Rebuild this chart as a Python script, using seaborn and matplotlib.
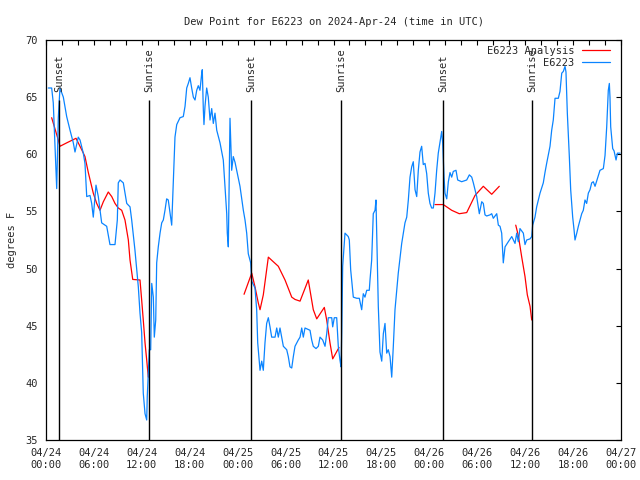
#!/usr/bin/env python3
"""Dew point at E6223 with analysis overlay, gnuplot-like look."""

import pandas as pd
import matplotlib
matplotlib.use("Agg")
import matplotlib.pyplot as plt
import matplotlib.dates as mdates
import seaborn as sns

# ── Data (hours after 2024-04-24 00:00 UTC, degrees F) ───────────────

obs_hours = [
    0.29, 0.71, 0.91, 1.25, 1.34, 1.54, 1.75, 2.17, 2.59, 3.01, 3.42, 3.63,
    4.04, 4.26, 4.67, 4.88, 5.10, 5.51, 5.72, 5.92, 6.26, 6.55, 6.97, 7.60,
    8.01, 8.64, 8.93, 9.05, 9.27, 9.68, 10.11, 10.52, 10.73, 11.14, 11.36,
    11.56, 11.77, 11.98, 12.18, 12.40, 12.61, 12.68, 12.94, 13.11, 13.24,
    13.44, 13.56, 13.74, 13.86, 14.06, 14.28, 14.49, 14.69, 14.90, 15.11,
    15.31, 15.74, 15.94, 16.15, 16.37, 16.78, 17.19, 17.41, 17.62, 17.82,
    18.03, 18.24, 18.45, 18.66, 18.87, 19.07, 19.28, 19.50, 19.57, 19.70,
    19.78, 19.91, 20.12, 20.32, 20.54, 20.75, 20.95, 21.16, 21.38, 21.79,
    22.20, 22.41, 22.63, 22.70, 22.83, 23.04, 23.25, 23.45, 23.67, 23.88,
    24.29, 24.71, 24.92, 25.13, 25.33, 25.63, 25.76, 26.17, 26.38, 26.51,
    26.80, 27.01, 27.21, 27.42, 27.63, 27.84, 28.05, 28.26, 28.68, 28.89,
    29.09, 29.30, 29.51, 29.72, 30.14, 30.34, 30.55, 30.77, 30.97, 31.18,
    31.59, 31.81, 32.02, 32.22, 32.43, 33.06, 33.27, 33.47, 33.81, 34.10,
    34.31, 34.65, 34.94, 35.15, 35.35, 35.78, 35.90, 36.10, 36.40, 36.60,
    36.81, 36.94, 37.03, 37.15, 37.44, 37.85, 37.98, 38.15, 38.48, 38.91,
    39.23, 39.53, 39.73, 39.94, 40.16, 40.48, 40.57, 40.78, 40.98, 41.20,
    41.32, 41.61, 41.82, 42.04, 42.24, 42.45, 42.66, 42.86, 43.08, 43.29,
    43.49, 43.70, 44.11, 44.54, 44.95, 45.17, 45.37, 45.58, 45.79, 45.99,
    46.21, 46.42, 46.62, 46.83, 47.04, 47.24, 47.46, 47.67, 47.87, 48.08,
    48.29, 48.50, 48.71, 48.92, 49.12, 49.34, 49.55, 49.67, 49.84, 49.96,
    50.18, 50.38, 50.59, 50.80, 51.00, 51.34, 51.55, 52.05, 52.68, 53.01,
    53.31, 53.51, 53.72, 53.93, 54.26, 54.56, 54.76, 54.97, 55.18, 55.60,
    55.81, 56.01, 56.44, 56.64, 56.85, 57.06, 57.19, 57.26, 57.48, 57.89,
    58.32, 58.73, 58.94, 59.14, 59.35, 59.77, 59.98, 60.19, 60.61, 60.82,
    60.94, 61.23, 61.44, 61.86, 62.27, 62.48, 62.69, 63.11, 63.32, 63.52,
    63.74, 64.15, 64.36, 64.58, 64.78, 64.99, 65.11, 65.28, 65.53, 65.70,
    65.95, 66.12, 66.24, 66.46, 66.66, 66.87, 67.08, 67.28, 67.49, 67.70,
    67.91, 68.12, 68.33, 68.53, 68.75, 69.37, 69.79, 70.00, 70.21, 70.41,
    70.54, 70.62, 70.71, 70.96, 71.13, 71.38, 71.55, 71.88,
]
obs_dewpt = [
    65.8, 65.8, 64.5, 58.4, 57.0, 63.2, 65.8, 65.0, 63.3, 62.1, 61.0, 60.2,
    61.5, 61.25, 60.1, 59.2, 56.3, 56.4, 55.7, 54.5, 57.3, 56.3, 54.0, 53.7,
    52.1, 52.1, 54.25, 57.5, 57.75, 57.5, 55.7, 55.4, 54.25, 51.6, 49.9,
    48.4, 46.1, 44.4, 39.1, 37.3, 36.75, 38.8, 42.9, 42.9, 48.7,
    47.5, 44.0, 45.5, 50.5, 51.9, 53.1, 54.0, 54.25, 55.1, 56.1,
    56.0, 53.8, 57.5, 61.5, 62.6, 63.2, 63.3, 64.2, 65.8, 66.2,
    66.7, 65.8, 65.0, 64.75, 65.6, 66.0, 65.6, 67.1, 67.4, 63.9,
    62.6, 64.2, 65.8, 65.0, 63.0, 64.0, 62.7, 63.6, 62.1, 61.0,
    59.5, 57.2, 54.8, 53.1, 51.9, 63.15, 58.6, 59.8, 59.3, 58.6,
    57.2, 55.1, 54.25, 53.1, 51.3, 50.5, 48.9, 48.3, 46.4, 43.5,
    41.1, 41.9, 41.1, 43.5, 45.2, 45.7, 44.9, 44.0, 44.0, 44.8,
    44.0, 44.8, 44.0, 43.2, 42.9, 42.3, 41.4, 41.3, 42.3, 43.2,
    43.75, 44.0, 44.8, 44.0, 44.8, 44.6, 43.75, 43.2, 43.0, 43.2,
    44.0, 43.75, 43.2, 44.3, 45.7, 45.7, 44.9, 45.7, 45.7, 43.2,
    42.0, 41.4, 44.3, 50.2, 53.1, 52.8, 52.5, 49.9, 47.5, 47.4,
    47.4, 46.4, 47.8, 47.5, 48.1, 48.1, 49.0, 50.75, 54.8, 55.1,
    56.0, 46.7, 42.7, 41.9, 44.3, 45.2, 42.6, 42.9, 42.3, 40.5,
    43.2, 46.4, 49.6, 52.2, 54.0, 54.5, 56.0, 58.0, 58.9, 59.35,
    56.9, 56.3, 58.6, 60.2, 60.7, 59.1, 59.2, 58.3, 56.6, 55.7,
    55.3, 55.3, 56.6, 58.6, 60.1, 61.1, 62.0, 61.0, 58.0, 56.6,
    56.1, 57.6, 58.4, 58.0, 58.5, 58.6, 57.75, 57.6, 57.75, 58.2,
    58.0, 57.5, 56.9, 56.3, 54.8, 55.85, 55.7, 54.7, 54.6, 54.7,
    54.8, 54.4, 54.8, 53.8, 53.7, 53.1, 51.3, 50.5, 51.9, 52.35,
    52.8, 52.2, 53.1, 52.35, 53.5, 53.1, 52.1, 52.5, 52.6, 52.8,
    53.8, 54.5, 55.4, 56.6, 57.5, 58.4, 59.2, 60.7, 62.1, 63.0,
    64.9, 64.9, 65.5, 67.1, 67.25, 67.7, 67.2, 63.6, 59.8, 56.9,
    54.5, 53.4, 52.5, 53.1, 53.7, 54.25, 54.8, 55.1, 56.0, 55.7,
    56.6, 56.9, 57.5, 57.6, 57.2, 58.6, 58.75, 59.9, 62.4, 65.6,
    66.2, 65.0, 62.4, 60.5, 60.3, 59.5, 60.1, 60.1,
]

# analysis comes in four separate runs
ana_hours = [
    [0.71, 1.54, 1.75, 2.59, 3.76, 4.04, 4.47, 4.88, 5.30, 5.92, 6.35, 6.76,
     7.18, 7.80, 8.23, 8.64, 9.05, 9.48, 9.89, 10.31, 10.52, 10.86, 11.77,
     11.98, 12.18, 12.40, 12.61, 12.81],
    [24.80, 25.76, 26.17, 26.58, 26.80, 27.21, 27.84, 28.46, 29.09, 29.93,
     30.77, 31.18, 31.81, 32.84, 33.47, 33.90, 34.85, 35.15, 35.56, 35.90,
     36.69],
    [48.71, 49.75, 50.80, 51.75, 52.68, 53.72, 54.76, 55.81, 56.76],
    [58.82, 59.14, 59.57, 59.98, 60.27, 60.61, 60.82],
]
ana_dewpt = [
    [63.2, 61.25, 60.7, 61.0, 61.4, 61.0, 60.4, 59.8, 58.4, 56.6, 55.7, 55.1,
     55.85, 56.7, 56.3, 55.7, 55.3, 55.1, 54.25, 52.5, 50.75, 49.05, 49.0,
     47.25, 45.5, 43.5, 42.0, 40.5],
    [47.75, 49.6, 48.4, 47.0, 46.4, 47.7, 51.0, 50.6, 50.2, 49.0,
     47.5, 47.3, 47.15, 49.0, 46.4, 45.6, 46.6, 45.5, 43.5, 42.1,
     43.1],
    [55.6, 55.6, 55.1, 54.8, 54.9, 56.4, 57.2, 56.5, 57.2],
    [53.8, 52.9, 51.0, 49.3, 47.7, 46.7, 45.5],
]

sunset_hours = [1.66, 25.71, 49.75]
sunrise_hours = [12.93, 36.94, 60.89]

start = pd.Timestamp("2024-04-24 00:00")

obs = pd.DataFrame({
    "time": start + pd.to_timedelta(obs_hours, unit="h"),
    "dewpt": obs_dewpt,
})
ana = pd.concat([
    pd.DataFrame({
        "time": start + pd.to_timedelta(h, unit="h"),
        "dewpt": v,
        "run": i,
    })
    for i, (h, v) in enumerate(zip(ana_hours, ana_dewpt))
], ignore_index=True)

# ── Plot ─────────────────────────────────────────────────────────────

sns.set_theme(style="white")
plt.rcParams["font.family"] = ["DejaVu Sans Mono"]
plt.rcParams["font.size"] = 7.5

fig = plt.figure(figsize=(6.4, 4.8), dpi=100)
ax = fig.add_axes([46 / 640, 40 / 480, 575 / 640, 400 / 480])

sns.lineplot(data=ana, x="time", y="dewpt", units="run", estimator=None,
             color="#ff0000", linewidth=0.9, ax=ax, label="E6223 Analysis")
sns.lineplot(data=obs, x="time", y="dewpt", color="#0a84ff",
             linewidth=0.9, ax=ax, label="E6223")

for hrs, name in [(sunset_hours, "Sunset"), (sunrise_hours, "Sunrise")]:
    for h in hrs:
        t = start + pd.Timedelta(hours=h)
        ax.vlines(t, 35, 64.75, color="black", linewidth=1.0)
        ax.text(t, 65.45, name, rotation=90, ha="center", va="bottom",
                fontsize=7.5)

ax.set_xlim(start, start + pd.Timedelta(hours=72))
ax.set_ylim(35, 70)
ax.set_yticks(range(35, 71, 5))
ax.xaxis.set_major_locator(mdates.HourLocator(byhour=[0, 6, 12, 18]))
ax.xaxis.set_minor_locator(mdates.HourLocator(interval=2))
ax.xaxis.set_major_formatter(mdates.DateFormatter("%m/%d\n%H:%M"))
ax.tick_params(which="both", direction="in", top=True, right=True,
               length=3.5, width=0.8, color="black", labelsize=7.5, pad=6)
for sp in ax.spines.values():
    sp.set_color("black")
    sp.set_linewidth(0.9)

ax.set_xlabel("")
ax.set_ylabel("degrees F", fontsize=7.5, labelpad=6)
ax.set_title("Dew Point for E6223 on 2024-Apr-24 (time in UTC)",
             fontsize=7.5, pad=11)

# one legend row per series (the analysis runs repeat their label)
handles, labels = ax.get_legend_handles_labels()
seen = {}
for hd, lb in zip(handles, labels):
    seen.setdefault(lb, hd)
ax.legend(list(seen.values()), list(seen.keys()),
          loc="upper right", bbox_to_anchor=(0.981, 0.985),
          frameon=False, markerfirst=False, borderpad=0, borderaxespad=0,
          handlelength=2.7, fontsize=7.5, labelspacing=0.15,
          handletextpad=0.75)

fig.savefig("out.png", dpi=100)
plt.close(fig)
